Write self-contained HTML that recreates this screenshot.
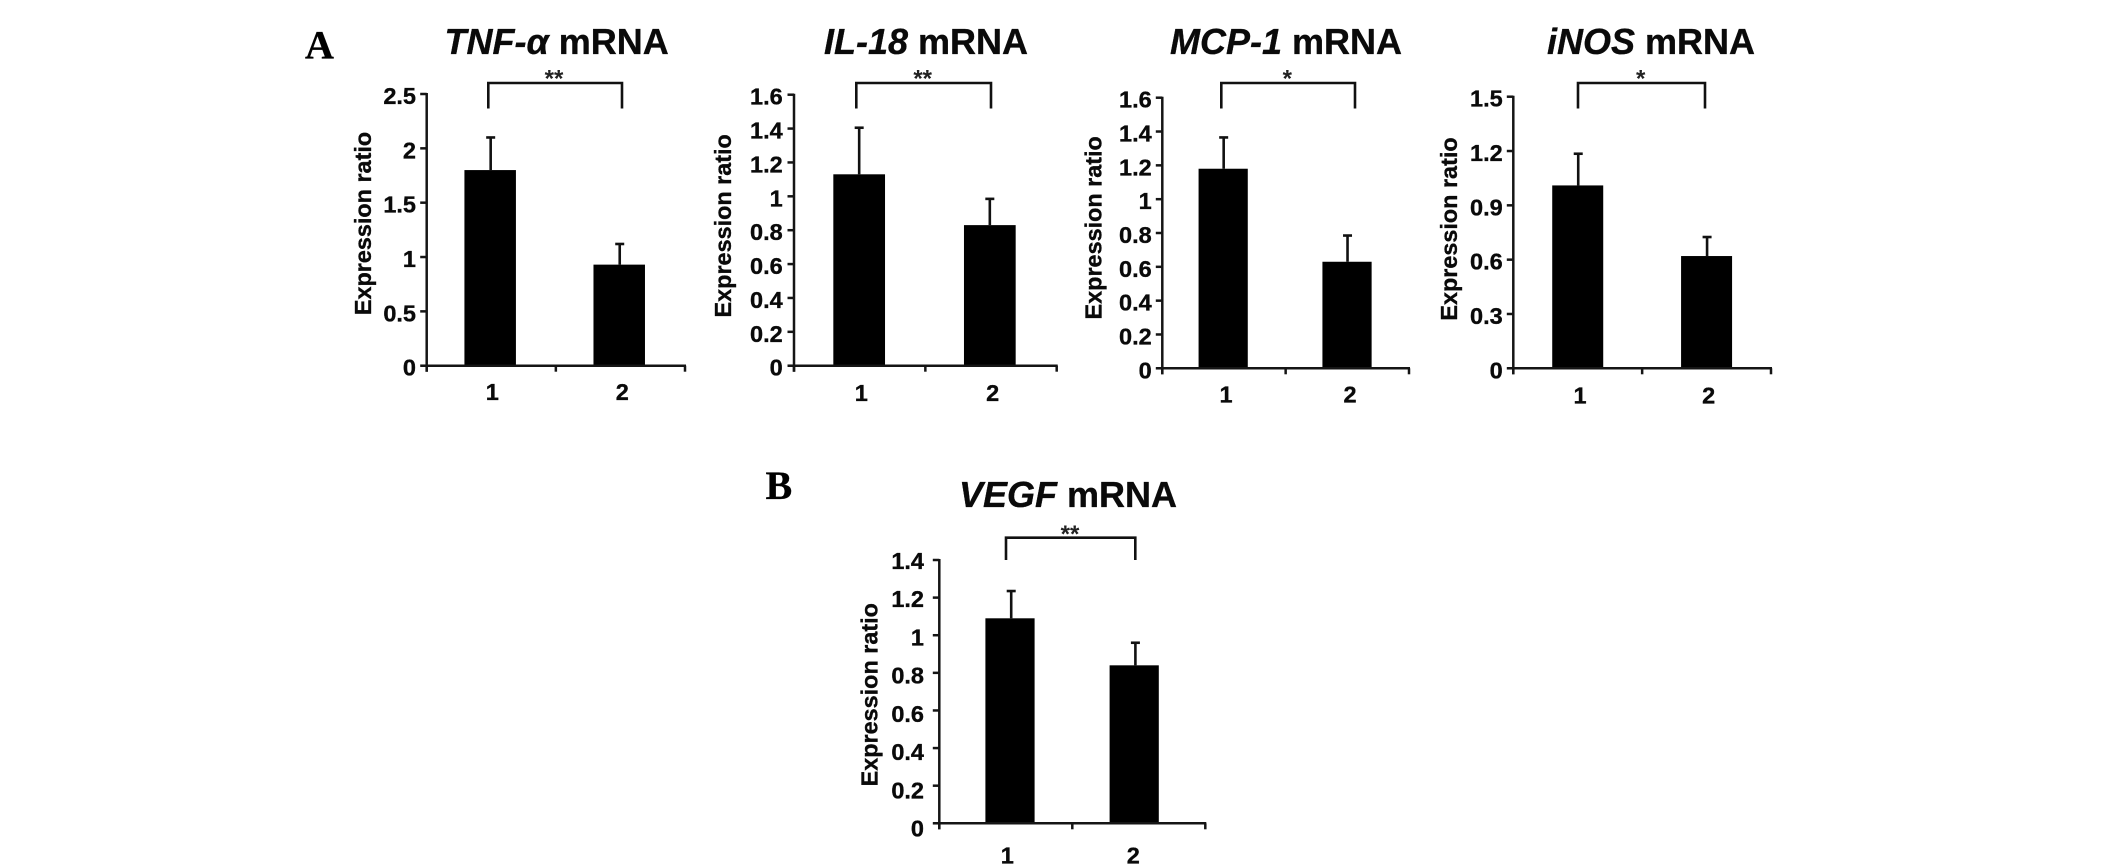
<!DOCTYPE html>
<html lang="en">
<head>
<meta charset="utf-8">
<title>mRNA expression ratio bar charts</title>
<style>
html,body{margin:0;padding:0;background:#fff;width:2126px;height:864px;overflow:hidden}
svg{display:block}
text{font-family:"Liberation Sans",Arial,sans-serif;fill:#0a0a0a;stroke:#0a0a0a;stroke-width:0.35px}
.title{font-size:36px;font-weight:bold}
.panel{font-family:"Liberation Serif",serif;font-size:40px;font-weight:bold;fill:#000}
.ylab{font-size:23.4px;font-weight:bold;text-anchor:middle}
.star{font-size:24px;font-weight:bold;text-anchor:middle;fill:#222;stroke:none}
.bracket{fill:none;stroke:#111;stroke-width:2.6}
</style>
</head>
<body>
<svg id="figure" xmlns="http://www.w3.org/2000/svg" width="2126" height="864" viewBox="0 0 2126 864">
  <text class="panel" x="305" y="58.5">A</text>
  <text class="panel" x="765.5" y="499">B</text>

  <text class="title" x="444.5" y="54"><tspan font-style="italic">TNF-α</tspan> mRNA</text>
  <text class="title" x="824" y="54"><tspan font-style="italic">IL-18</tspan> mRNA</text>
  <text class="title" x="1170" y="54"><tspan font-style="italic">MCP-1</tspan> mRNA</text>
  <text class="title" x="1547" y="54"><tspan font-style="italic">iNOS</tspan> mRNA</text>
  <text class="title" x="959" y="507"><tspan font-style="italic">VEGF</tspan> mRNA</text>

  <text class="ylab" transform="translate(371,223.5) rotate(-90)">Expression ratio</text>
  <text class="ylab" transform="translate(731,225.8) rotate(-90)">Expression ratio</text>
  <text class="ylab" transform="translate(1101.5,227.8) rotate(-90)">Expression ratio</text>
  <text class="ylab" transform="translate(1457,229) rotate(-90)">Expression ratio</text>
  <text class="ylab" transform="translate(877.5,694.7) rotate(-90)">Expression ratio</text>

  <path class="bracket" d="M488.3 108.5V83H622V108.5"/>
  <path class="bracket" d="M856.3 108.5V83H991V108.5"/>
  <path class="bracket" d="M1221.3 108.5V83H1355V108.5"/>
  <path class="bracket" d="M1578 108.5V83H1705V108.5"/>
  <path class="bracket" d="M1006 560V537.7H1135.3V560"/>

  <text class="star" x="554" y="86.5">**</text>
  <text class="star" x="922.7" y="86.5">**</text>
  <text class="star" x="1287.3" y="86.5">*</text>
  <text class="star" x="1640.7" y="86.5">*</text>
  <text class="star" x="1070" y="542">**</text>
</svg>
<script>
var categories = ['1', '2'];

var tnfValues = [1.80, 0.93];
var tnfErrors = [0.30, 0.19];
var tnfTicks = ['0', '0.5', '1', '1.5', '2', '2.5'];

var il18Values = [1.13, 0.83];
var il18Errors = [0.275, 0.155];
var il18Ticks = ['0', '0.2', '0.4', '0.6', '0.8', '1', '1.2', '1.4', '1.6'];

var mcp1Values = [1.18, 0.63];
var mcp1Errors = [0.185, 0.155];
var mcp1Ticks = ['0', '0.2', '0.4', '0.6', '0.8', '1', '1.2', '1.4', '1.6'];

var inosValues = [1.01, 0.62];
var inosErrors = [0.175, 0.105];
var inosTicks = ['0', '0.3', '0.6', '0.9', '1.2', '1.5'];

var vegfValues = [1.09, 0.84];
var vegfErrors = [0.145, 0.12];
var vegfTicks = ['0', '0.2', '0.4', '0.6', '0.8', '1', '1.2', '1.4'];

var charts = [
  {id: 'tnf-alpha', values: tnfValues, errors: tnfErrors, ticks: tnfTicks,
   box: {left: 426.7, right: 685, top: 94, bottom: 365.7}, barW: 51.5, shift: [-1.1, -1.2], errShift: 0.5,
   labelRight: 416, labelDrop: [10, 10], catY: 400, catX: [492.3, 622.3]},
  {id: 'il-18', values: il18Values, errors: il18Errors, ticks: il18Ticks,
   box: {left: 794, right: 1056.7, top: 94.7, bottom: 365.7}, barW: 51.7, shift: [-0.5, -1.2], errShift: 0,
   labelRight: 782.7, labelDrop: [10, 10], catY: 401, catX: [861.3, 992.7]},
  {id: 'mcp-1', values: mcp1Values, errors: mcp1Errors, ticks: mcp1Ticks,
   box: {left: 1162.3, right: 1409, top: 97.7, bottom: 368.3}, barW: 49.2, shift: [-0.8, -0.3], errShift: 0.5,
   labelRight: 1151.7, labelDrop: [10, 10], catY: 402.7, catX: [1226, 1350]},
  {id: 'inos', values: inosValues, errors: inosErrors, ticks: inosTicks,
   box: {left: 1513.3, right: 1771, top: 96.7, bottom: 368.3}, barW: 51, shift: [0, 0], errShift: 0.5,
   labelRight: 1502.7, labelDrop: [10, 10], catY: 403.3, catX: [1580, 1708.7]},
  {id: 'vegf', values: vegfValues, errors: vegfErrors, ticks: vegfTicks,
   box: {left: 939.3, right: 1205.3, top: 560, bottom: 823.3}, barW: 49.2, shift: [4.2, -4.6], errShift: 1.2,
   labelRight: 924, labelDrop: [13.4, 9], catY: 863.3, catX: [1007.3, 1133.3]}
];

var NS = 'http://www.w3.org/2000/svg';
var figure = document.getElementById('figure');

function make(tag, attrs, parent) {
  var el = document.createElementNS(NS, tag);
  for (var k in attrs) { el.setAttribute(k, attrs[k]); }
  parent.appendChild(el);
  return el;
}

function drawChart(c) {
  var g = make('g', {}, figure);
  
  

  var maxV = parseFloat(c.ticks[c.ticks.length - 1]);
  var yScale = function (v) { return c.box.bottom - (v / maxV) * (c.box.bottom - c.box.top); };
  var band = (c.box.right - c.box.left) / categories.length;
  var xScale = function (i) { return c.box.left + band * (i + 0.5) + c.shift[i]; };
  var axisStyle = {stroke: '#151515', 'stroke-width': 2.5, fill: 'none'};

  categories.forEach(function (cat, i) {
    var cx = xScale(i);
    var top = yScale(c.values[i]);
    var errTop = yScale(c.values[i] + c.errors[i]);
    var ex = cx + c.errShift;

    var stem = make('line', {x1: ex, x2: ex, y1: top, y2: errTop, stroke: '#111', 'stroke-width': 2.6}, g);
    
    

    var cap = make('line', {x1: ex - 4.5, x2: ex + 4.5, y1: errTop, y2: errTop, stroke: '#111', 'stroke-width': 2.6}, g);
    
    

    var bar = make('rect', {x: cx - c.barW / 2, y: top, width: c.barW, height: c.box.bottom - top, fill: '#000'}, g);
    
    

    var catLabel = make('text', {x: c.catX[i], y: c.catY, 'text-anchor': 'middle', 'font-size': 23.5, 'font-weight': 'bold'}, g);
    catLabel.textContent = cat;
    
    
  });

  var yAxis = make('line', Object.assign({x1: c.box.left, x2: c.box.left, y1: c.box.top - 1, y2: c.box.bottom + 6}, axisStyle), g);
  
  

  var xAxis = make('line', Object.assign({x1: c.box.left - 6, x2: c.box.right + 1, y1: c.box.bottom, y2: c.box.bottom}, axisStyle), g);
  
  

  c.ticks.forEach(function (t) {
    var v = parseFloat(t);
    var y = yScale(v);
    var drop = c.labelDrop[0] + (c.labelDrop[1] - c.labelDrop[0]) * (v / maxV);

    var mark = make('line', Object.assign({x1: c.box.left - 6.5, x2: c.box.left, y1: y, y2: y}, axisStyle), g);
    
    

    var label = make('text', {x: c.labelRight, y: y + drop, 'text-anchor': 'end', 'font-size': 23.5, 'font-weight': 'bold'}, g);
    label.textContent = t;
    
    
  });

  for (var j = 0; j <= categories.length; j++) {
    var tx = c.box.left + band * j;
    var xt = make('line', Object.assign({x1: tx, x2: tx, y1: c.box.bottom, y2: c.box.bottom + 6}, axisStyle), g);
    
    
  }
}

charts.forEach(drawChart);
</script>
</body>
</html>
